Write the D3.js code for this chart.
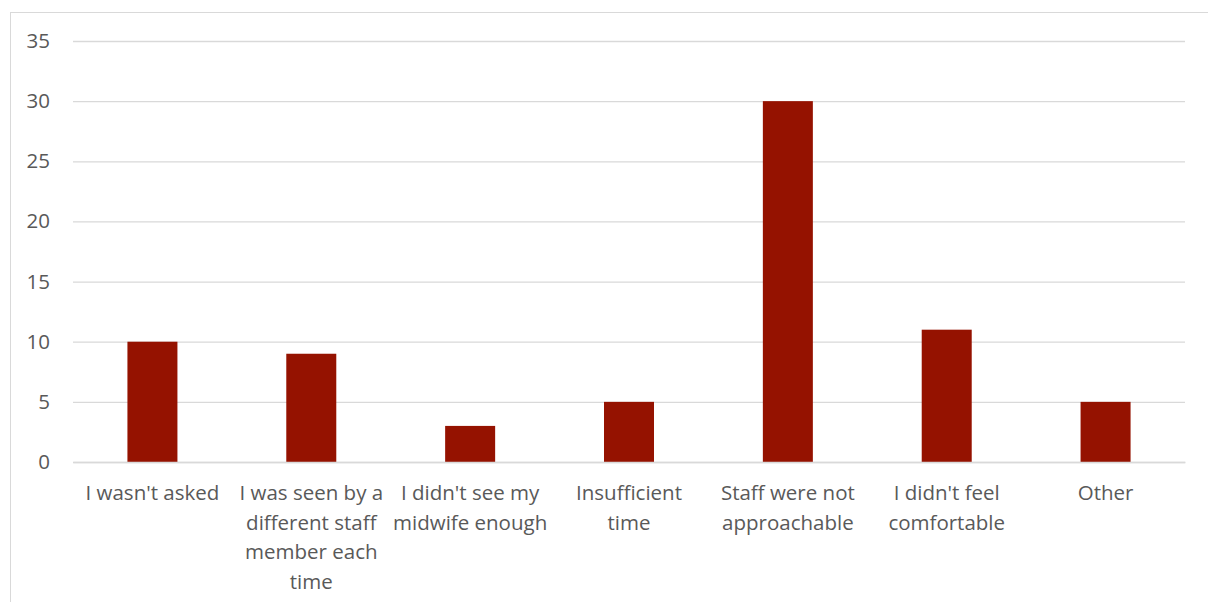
<!DOCTYPE html>
<html>
 <head>
  <script src="https://cdnjs.cloudflare.com/ajax/libs/d3/7.8.3/d3.min.js"></script>
  <style>
   body { margin: 0; background: #fff; }
   text { font-family: "Open Sans", "Noto Sans", sans-serif; fill: #595959; }
  </style>
 </head>
 <body>
  <script>
   const categories = [
    "I wasn't asked",
    "I was seen by a different staff member each time",
    "I didn't see my midwife enough",
    "Insufficient time",
    "Staff were not approachable",
    "I didn't feel comfortable",
    "Other"
   ];
   // label line breaks as they appear in the picture
   const labelLines = [
    ["I wasn't asked"],
    ["I was seen by a", "different staff", "member each", "time"],
    ["I didn't see my", "midwife enough"],
    ["Insufficient", "time"],
    ["Staff were not", "approachable"],
    ["I didn't feel", "comfortable"],
    ["Other"]
   ];
   const counts = [10, 9, 3, 5, 30, 11, 5];
   const yTicks = [0, 5, 10, 15, 20, 25, 30, 35];

   const w = 1208, h = 602;
   const padL = 73, padR = 1185, padT = 41, padB = 462;
   const fs = 20.5;

   const svg = d3.select("body").append("svg")
                 .attr("width", w)
                 .attr("height", h);

   // chart frame
   svg.append("rect")
      .attr("x", 10.5).attr("y", 12.5)
      .attr("width", 1260).attr("height", 700)
      .attr("fill", "none")
      .attr("stroke", "#d9d9d9");

   const x = d3.scaleBand()
               .domain(categories)
               .range([padL, padR]);
   const y = d3.scaleLinear()
               .domain([0, 35])
               .range([padB, padT]);

   const yAxis = d3.axisLeft(y)
                   .tickValues(yTicks)
                   .tickSize(-(padR - padL))
                   .tickPadding(23);
   const gy = svg.append("g")
                 .attr("transform", "translate(" + padL + ",0)")
                 .call(yAxis);
   gy.select(".domain").remove();
   gy.selectAll("line").attr("stroke", "#d9d9d9").attr("stroke-width", 1.3);
   gy.selectAll("text").attr("font-size", fs).attr("fill", "#595959");

   svg.selectAll("rect.bar")
      .data(counts)
      .enter()
      .append("rect")
      .attr("class", "bar")
      .attr("x", (d, i) => x(categories[i]) + x.bandwidth() / 2 - 25)
      .attr("y", d => y(d))
      .attr("width", 50)
      .attr("height", d => y(0) - y(d))
      .attr("fill", "#951200");

   const xAxis = d3.axisBottom(x).tickSize(0).tickFormat("");
   const gx = svg.append("g")
                 .attr("transform", "translate(0," + padB + ")")
                 .call(xAxis);
   gx.select(".domain").attr("stroke", "#d9d9d9").attr("stroke-width", 1.3);

   gx.selectAll(".tick")
     .each(function(d, i) {
      const t = d3.select(this).append("text")
                  .attr("text-anchor", "middle")
                  .attr("font-size", fs)
                  .attr("fill", "#595959");
      labelLines[i].forEach((line, j) => {
       t.append("tspan")
        .attr("x", 0)
        .attr("y", 38 + j * 29.7)
        .text(line);
      });
     });
  </script>
 </body>
</html>
